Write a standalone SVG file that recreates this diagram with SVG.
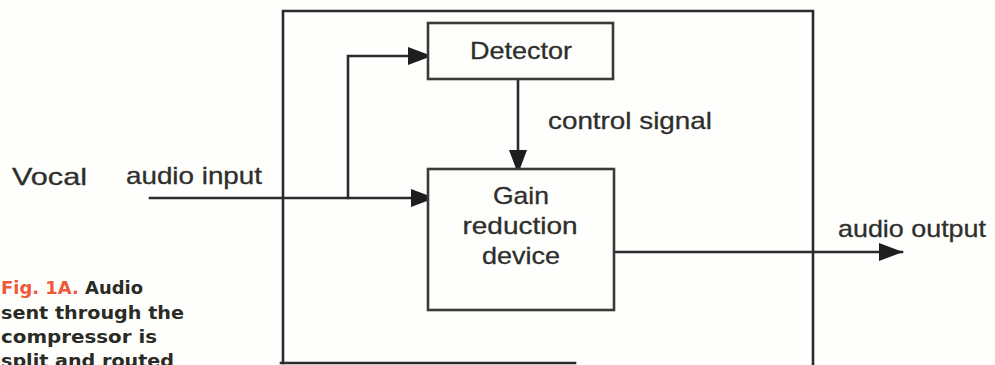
<svg xmlns="http://www.w3.org/2000/svg" width="995" height="365" viewBox="0 0 995 365">
  <style>
    .line { fill: none; stroke: #2b2b2b; stroke-width: 2.6; stroke-linecap: square; }
    .box { fill: #fefefc; stroke: #3a3a38; stroke-width: 2.6; }
    .lbl { font-family: "Liberation Sans", Arial, sans-serif; font-size: 24px; fill: #2e2e2c; stroke: #2e2e2c; stroke-width: 0.3; }
    .ctr { text-anchor: middle; }
    .cap { font-family: "DejaVu Sans", "Liberation Sans", sans-serif; font-weight: bold; font-size: 18px; fill: #2b2b25; }
    .fig { fill: #f0583a; }
  </style>
  <defs>
    <marker id="arrow" viewBox="0 0 24 18" refX="23" refY="9" markerWidth="24" markerHeight="18" markerUnits="userSpaceOnUse" orient="auto">
      <path d="M0,0 L24,9 L0,18 Z" fill="#1e1e1e"/>
    </marker>
  </defs>
  <rect width="995" height="365" fill="#fefefc"/>

  <!-- compressor enclosure -->
  <g id="compressor">
    <path class="line" d="M283,363 L283,11 L813,11 L813,366"/>
    <path class="line" d="M281,363 L575,363"/>
  </g>

  <!-- connectors -->
  <g id="connectors">
    <path class="line" d="M150,198 L434,198" marker-end="url(#arrow)"/>
    <path class="line" d="M348,198 L348,56 L431,56" marker-end="url(#arrow)"/>
    <path class="line" d="M518,79 L518,173" marker-end="url(#arrow)"/>
    <path class="line" d="M614,252 L902,252" marker-end="url(#arrow)"/>
  </g>

  <g id="detector">
    <rect class="box" x="428" y="23" width="185" height="56"/>
    <text class="lbl ctr" x="521" y="59" font-size="26" textLength="102" lengthAdjust="spacingAndGlyphs">Detector</text>
  </g>

  <g id="gain-reduction">
    <rect class="box" x="428" y="169" width="186" height="141"/>
    <text class="lbl ctr" x="521" y="204" textLength="56" lengthAdjust="spacingAndGlyphs">Gain</text>
    <text class="lbl ctr" x="520" y="234" textLength="115" lengthAdjust="spacingAndGlyphs">reduction</text>
    <text class="lbl ctr" x="521" y="264" textLength="78" lengthAdjust="spacingAndGlyphs">device</text>
  </g>

  <!-- signal labels -->
  <g id="labels">
    <text class="lbl" x="12" y="185" font-size="27" textLength="75" lengthAdjust="spacingAndGlyphs">Vocal</text>
    <text class="lbl" x="126" y="184" textLength="136" lengthAdjust="spacingAndGlyphs">audio input</text>
    <text class="lbl" x="548" y="129" textLength="164" lengthAdjust="spacingAndGlyphs">control signal</text>
    <text class="lbl" x="838" y="237" textLength="148" lengthAdjust="spacingAndGlyphs">audio output</text>
  </g>

  <!-- figure caption -->
  <g id="caption">
    <text class="cap" x="1" y="294" textLength="142" lengthAdjust="spacingAndGlyphs"><tspan class="fig">Fig. 1A.</tspan> Audio</text>
    <text class="cap" x="1" y="318.5" textLength="183" lengthAdjust="spacingAndGlyphs">sent through the</text>
    <text class="cap" x="1" y="343" textLength="156" lengthAdjust="spacingAndGlyphs">compressor is</text>
    <text class="cap" x="1" y="367" textLength="173" lengthAdjust="spacingAndGlyphs">split and routed</text>
  </g>
</svg>
